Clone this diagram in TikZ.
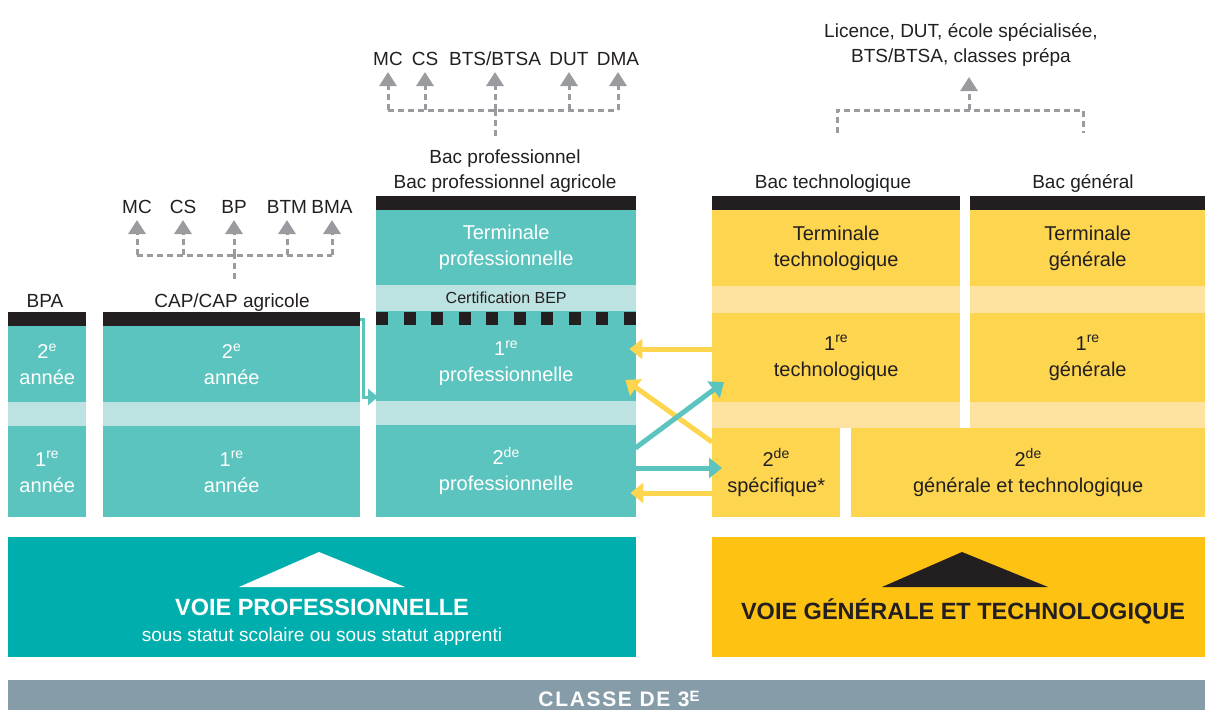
\documentclass[tikz,border=0pt]{standalone}
\usepackage{fontspec}
\setmainfont{Liberation Sans}
\newfontfamily\widefont{Liberation Sans}[LetterSpace=8]
\usepackage{xcolor}
\usepackage{tikz}
\usetikzlibrary{arrows.meta,positioning,calc}
\definecolor{tealbox}{HTML}{5BC4BE}
\definecolor{teallight}{HTML}{BCE3E1}
\definecolor{tealdark}{HTML}{00AEAD}
\definecolor{yellowbox}{HTML}{FDD54F}
\definecolor{yellowlight}{HTML}{FEE2A0}
\definecolor{yellowdark}{HTML}{FEC212}
\definecolor{inkblack}{HTML}{231F20}
\definecolor{graybar}{HTML}{869CA8}
\definecolor{grayarrow}{HTML}{999B9E}
\newcommand{\px}[2]{\fontsize{#1pt}{#2pt}\selectfont}

\begin{document}
\begin{tikzpicture}[x=1pt, y=-1pt,
    cell/.style={rectangle, inner sep=0pt, anchor=north west, align=center, font=\px{20}{26}},
    tealcell/.style={cell, fill=tealbox, text=white},
    yellowcell/.style={cell, fill=yellowbox, text=inkblack},
    topbar/.style={rectangle, inner sep=0pt, anchor=north west, fill=inkblack, minimum height=14pt},
    lbl/.style={anchor=base, inner sep=0pt, font=\px{19}{25}, text=inkblack},
    tree/.style={draw=grayarrow, line width=3pt, dash pattern=on 6pt off 4pt},
    treetip/.style={-{Triangle[length=14pt, width=17pt]}},
    ylink/.style={draw=yellowbox, line width=5pt, -{Triangle[length=13pt, width=20pt]}},
    tlink/.style={draw=tealbox, line width=5pt, -{Triangle[length=13pt, width=20pt]}}]
    \useasboundingbox (0,0) rectangle (1205,710);

    % voie professionnelle
    \node[topbar, minimum width=78pt] (bpabar) at (8,312) {};
    \node[tealcell, minimum width=78pt, minimum height=76pt] (bpa2) at (8,326) {2\textsuperscript{e}\\année};
    \fill[teallight] (8,402) rectangle (86,426);
    \node[tealcell, minimum width=78pt, minimum height=91pt] (bpa1) at (8,426) {1\textsuperscript{re}\\année};
    \node[topbar, minimum width=257pt] (capbar) at (103,312) {};
    \node[tealcell, minimum width=257pt, minimum height=76pt] (cap2) at (103,326) {2\textsuperscript{e}\\année};
    \fill[teallight] (103,402) rectangle (360,426);
    \node[tealcell, minimum width=257pt, minimum height=91pt] (cap1) at (103,426) {1\textsuperscript{re}\\année};
    \node[topbar, minimum width=260pt] (profbar) at (376,196) {};
    \node[tealcell, minimum width=260pt, minimum height=75pt] (profT) at (376,210) {Terminale\\professionnelle};
    \node[cell, fill=teallight, text=inkblack, font=\px{16}{20}, minimum width=260pt, minimum height=26pt] (bep) at (376,285) {Certification BEP};
    \fill[tealbox] (376,311) rectangle (636,325);
    \foreach \i in {0,...,9}
        \fill[inkblack] (376+\i*27.56,312) rectangle ++(12,13);
    \node[tealcell, minimum width=260pt, minimum height=76pt] (prof1) at (376,325) {1\textsuperscript{re}\\professionnelle};
    \fill[teallight] (376,401) rectangle (636,425);
    \node[tealcell, minimum width=260pt, minimum height=92pt] (prof2) at (376,425) {2\textsuperscript{de}\\professionnelle};

    % voie generale et technologique
    \node[topbar, minimum width=248pt] (techbar) at (712,196) {};
    \node[yellowcell, minimum width=248pt, minimum height=76pt] (techT) at (712,210) {Terminale\\technologique};
    \fill[yellowlight] (712,286) rectangle (960,313);
    \node[yellowcell, minimum width=248pt, minimum height=89pt] (tech1) at (712,313) {1\textsuperscript{re}\\technologique};
    \fill[yellowlight] (712,402) rectangle (960,428);
    \node[yellowcell, minimum width=128pt, minimum height=89pt] (spec) at (712,428) {2\textsuperscript{de}\\spécifique*};
    \node[topbar, minimum width=235pt] (genbar) at (970,196) {};
    \node[yellowcell, minimum width=235pt, minimum height=76pt] (genT) at (970,210) {Terminale\\générale};
    \fill[yellowlight] (970,286) rectangle (1205,313);
    \node[yellowcell, minimum width=235pt, minimum height=89pt] (gen1) at (970,313) {1\textsuperscript{re}\\générale};
    \fill[yellowlight] (970,402) rectangle (1205,428);
    \node[yellowcell, minimum width=354pt, minimum height=89pt] (gen2) at (851,428) {2\textsuperscript{de}\\générale et technologique};

    % titres
    \node[lbl] (bpaL) at (45,307) {BPA};
    \node[lbl] (capL) at (232,307) {CAP/CAP agricole};
    \node[lbl, align=center] (bacpL) at (505,188) {Bac professionnel\\Bac professionnel agricole};
    \node[lbl] (bactL) at (833,188) {Bac technologique};
    \node[lbl] (bacgL) at (1083,188) {Bac général};
    \node[lbl, align=center] (licL) at (961,62) {Licence, DUT, école spécialisée,\\BTS/BTSA, classes prépa};

    % poursuites
    \foreach \n/\x/\t in {mcA/137/MC, csA/183/CS, bpA/234/BP, btmA/287/BTM, bmaA/332/BMA}
        \node[lbl] (\n) at (\x,213) {\t};
    \draw[tree] (bpA |- 0,279) -- (bpA |- 0,255);
    \draw[tree] (mcA |- 0,255) -- (bmaA |- 0,255);
    \foreach \n in {mcA,csA,bpA,btmA,bmaA}
        \draw[tree, treetip] (\n |- 0,255) -- (\n |- 0,220);
    \foreach \n/\x/\t in {mcB/388/MC, csB/425/CS, btsB/495/{BTS/BTSA}, dutB/569/DUT, dmaB/618/DMA}
        \node[lbl] (\n) at (\x,65) {\t};
    \draw[tree] (btsB |- 0,136) -- (btsB |- 0,110);
    \draw[tree] (mcB |- 0,110) -- (dmaB |- 0,110);
    \foreach \n in {mcB,csB,btsB,dutB,dmaB}
        \draw[tree, treetip] (\n |- 0,110) -- (\n |- 0,72);
    \coordinate (licJ) at (969,110);
    \coordinate (techJ) at (837,133);
    \coordinate (genJ) at (1083,133);
    \draw[tree] (techJ) |- (licJ) -| (genJ);
    \draw[tree, treetip] (licJ) -- (licJ |- 0,77);

    % passerelles
    \draw[draw=tealbox, line width=3pt, -{Triangle[length=10pt, width=16pt]}]
        (capbar.east) -- ++(3,0) |- ($(prof1.west |- 0,397)+(2,0)$);
    \draw[ylink] (tech1.west |- 0,349) -- ($(prof1.east |- 0,349)+(-7,0)$);
    \draw[ylink] (spec.west |- 0,442) -- ($(prof1.east |- 0,380)+(-11,0)$);
    \draw[tlink] ($(prof2.east |- 0,448)+(-1,0)$) -- ($(tech1.west |- 0,382)+(12,0)$);
    \draw[tlink] (prof2.east |- 0,468) -- ($(spec.west |- 0,468)+(10,0)$);
    \draw[ylink] (spec.west |- 0,493) -- ($(prof2.east |- 0,493)+(-6,0)$);

    % voies
    \node[rectangle, inner sep=0pt, anchor=north west, fill=tealdark, minimum width=628pt, minimum height=120pt] (voieP) at (8,537) {};
    \fill[white] (319,552) -- (405,587) -- (239,587) -- cycle;
    \node[anchor=base, inner sep=0pt, text=white, font=\bfseries\px{23.5}{28}] (voiePt) at (322,615) {VOIE PROFESSIONNELLE};
    \node[anchor=base, inner sep=0pt, text=white, font=\px{19}{24}] (voiePs) at (322,641) {sous statut scolaire ou sous statut apprenti};
    \node[rectangle, inner sep=0pt, anchor=north west, fill=yellowdark, minimum width=493pt, minimum height=120pt] (voieG) at (712,537) {};
    \fill[inkblack] (962,552) -- (1048,587) -- (882,587) -- cycle;
    \node[anchor=base, inner sep=0pt, text=inkblack, font=\bfseries\px{23.5}{28}] (voieGt) at (963,619) {VOIE GÉNÉRALE ET TECHNOLOGIQUE};

    % classe de 3e
    \node[rectangle, inner sep=0pt, anchor=north west, fill=graybar, minimum width=1197pt, minimum height=30pt] (classe) at (8,680) {};
    \node[anchor=base, inner sep=0pt, text=white, font=\widefont\bfseries\px{21}{24}] (classeT) at (619,706) {CLASSE DE 3{\px{15}{16}\raisebox{4.3pt}{E}}};
\end{tikzpicture}
\end{document}
